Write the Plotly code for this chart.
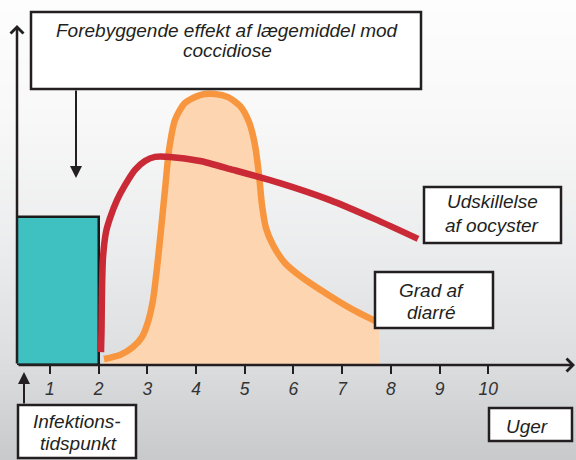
import plotly.graph_objects as go

# ---------------- data ----------------
tick_weeks = [1, 2, 3, 4, 5, 6, 7, 8, 9, 10]
tick_labels = ["1", "2", "3", "4", "5", "6", "7", "8", "9", "10"]

# drug protection period (weeks) and its level
drug_start, drug_end = 0.0, 2.0
drug_level = 43.5

# oocyst shedding (red)
oocyst_weeks = [2.049, 2.06, 2.07, 2.09, 2.152, 2.234, 2.378, 2.542, 2.747, 2.953,
                3.158, 3.466, 4.082, 4.760, 5.725, 6.752, 7.676, 8.559]
oocyst_level = [3.8, 10.3, 22.1, 31.5, 39.1, 43.2, 48.5, 52.9, 57.4, 60.0,
                61.2, 61.2, 60.0, 57.4, 53.5, 48.5, 42.9, 37.1]

# diarrhoea grade (orange)
diarr_weeks = [2.111, 2.439, 2.706, 2.891, 3.014, 3.117, 3.199, 3.281, 3.363, 3.446,
               3.569, 3.774, 4.082, 4.390, 4.657, 4.903, 5.088, 5.211, 5.294, 5.355,
               5.437, 5.581, 5.827, 6.136, 6.752, 7.269, 7.758]
diarr_level = [1.76, 2.94, 5.29, 8.24, 12.65, 19.1, 28.5, 39.7, 51.5, 63.2,
               72.1, 77.1, 79.4, 79.7, 78.8, 76.2, 71.5, 64.7, 55.9, 47.1,
               40.3, 35.3, 30.0, 26.2, 20.3, 15.9, 12.4]

# ---------------- layout helpers ----------------
W, H = 576, 460
L, B = 17, 95
PW, PH = W - L, H - B


def px(x):
    return (x - L) / PW


def py(y):
    return (PH - y) / PH


FONT = "Liberation Sans, Arial, sans-serif"

fig = go.Figure()

fig.add_trace(go.Bar(
    x=[(drug_start + drug_end) / 2], y=[drug_level], width=[drug_end - drug_start],
    marker=dict(color="#3fc1c1", line=dict(color="#1a1a1a", width=2.5)),
    hoverinfo="skip", showlegend=False))

fig.add_trace(go.Scatter(
    x=diarr_weeks, y=diarr_level, mode="lines", fill="tozeroy",
    fillcolor="#fdd5b0", line=dict(color="#f7963f", width=6.5, shape="spline", smoothing=0.7),
    hoverinfo="skip", showlegend=False))

fig.add_trace(go.Scatter(
    x=oocyst_weeks, y=oocyst_level, mode="lines",
    line=dict(color="#c92a36", width=6.5, shape="spline", smoothing=0.7),
    hoverinfo="skip", showlegend=False))

shapes = []
# background gradient
stops = [(0, (253, 253, 253)), (120, (248, 248, 248)), (250, (235, 236, 237)),
         (365, (220, 221, 223)), (460, (200, 201, 203))]
n = 92
for i in range(n):
    y0 = H * i / n
    y1 = H * (i + 1) / n
    ym = (y0 + y1) / 2
    for j in range(len(stops) - 1):
        if stops[j][0] <= ym <= stops[j + 1][0]:
            t = (ym - stops[j][0]) / (stops[j + 1][0] - stops[j][0])
            c = [round(stops[j][1][k] + t * (stops[j + 1][1][k] - stops[j][1][k])) for k in range(3)]
            break
    shapes.append(dict(type="rect", xref="paper", yref="paper", layer="below",
                       x0=px(0), x1=px(W), y0=py(y1 + 0.5), y1=py(y0),
                       fillcolor=f"rgb({c[0]},{c[1]},{c[2]})", line=dict(width=0)))

# white label boxes
boxes = [(31, 12, 421, 89), (18, 405, 136, 458), (424, 187, 561, 243),
         (375, 272, 493, 328), (489, 408, 572, 441)]
for x0, y0, x1, y1 in boxes:
    shapes.append(dict(type="rect", xref="paper", yref="paper", layer="above",
                       x0=px(x0), x1=px(x1), y0=py(y1), y1=py(y0),
                       fillcolor="white", line=dict(color="#231f20", width=2.5)))

annotations = []
texts = [
    ("Forebyggende effekt af lægemiddel mod", 227, 30),
    ("coccidiose", 227, 50),
    ("Infektions-", 77, 422),
    ("tidspunkt", 78, 443),
    ("Udskillelse", 492, 201),
    ("af oocyster", 492, 225),
    ("Grad af", 431, 290),
    ("diarré", 431, 312),
    ("Uger", 527, 426),
]
for t, x, y in texts:
    annotations.append(dict(text=t, xref="paper", yref="paper", x=px(x), y=py(y),
                            xanchor="center", yanchor="middle", showarrow=False,
                            font=dict(family=FONT, size=19, color="#231f20", style="italic")))

# arrows (axes and pointers)
arrows = [
    (575, 365, -558, 0, 4, 2.5, 1.0),   # x axis
    (17, 25, 0, 340, 4, 2.5, 1.0),      # y axis
    (76, 178, 0, -89, 2, 2.0, 1.2),     # pointer from top box
    (24, 372, 0, 33, 2, 2.0, 1.2),      # pointer from infection box
]
for x, y, ax, ay, head, w, size in arrows:
    annotations.append(dict(text="", xref="paper", yref="paper", x=px(x), y=py(y),
                            ax=ax, ay=ay, showarrow=True, arrowhead=head,
                            arrowwidth=w, arrowsize=size, arrowcolor="#231f20"))

fig.update_layout(
    width=W, height=H,
    margin=dict(l=L, r=0, t=0, b=B, pad=0),
    paper_bgcolor="#fdfdfd", plot_bgcolor="rgba(0,0,0,0)",
    shapes=shapes, annotations=annotations,
    bargap=0, showlegend=False,
    xaxis=dict(range=[(L - 1.2) / 48.7, (W - 1.2) / 48.7], tickvals=tick_weeks, ticktext=tick_labels,
               ticks="outside", ticklen=8, tickwidth=1.5, tickcolor="#231f20",
               showline=False, showgrid=False, zeroline=False, fixedrange=True,
               tickfont=dict(family=FONT, size=17.5, color="#333333", style="italic")),
    yaxis=dict(range=[0, PH / 3.4], visible=False, showgrid=False, zeroline=False, fixedrange=True),
)

fig.write_html("out.html", config={"displayModeBar": False},
               post_script="document.body.style.margin='0';document.body.style.overflow='hidden';")
